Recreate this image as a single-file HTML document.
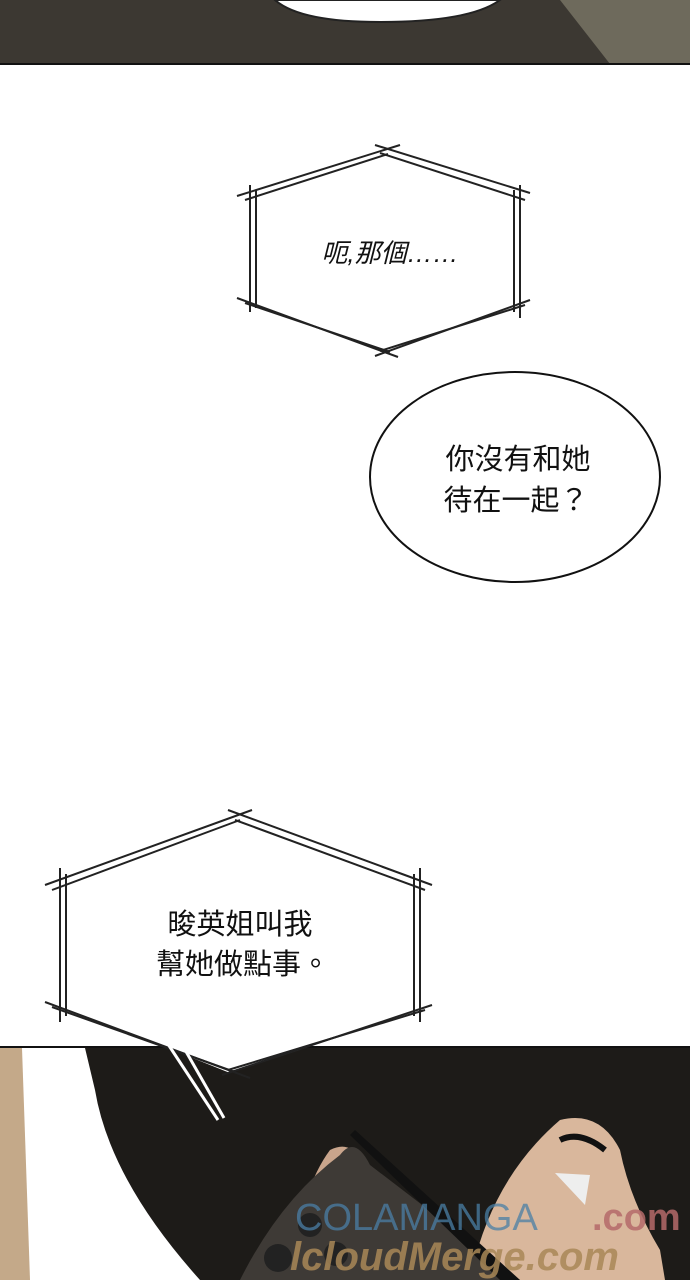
<!DOCTYPE html>
<html><head><meta charset="utf-8"><style>
html,body{margin:0;padding:0;background:#fff}
svg{display:block}
text{font-family:"Liberation Sans","Noto Sans CJK TC",sans-serif}
</style></head><body>
<svg width="690" height="1280" viewBox="0 0 690 1280" xmlns="http://www.w3.org/2000/svg">
<rect width="690" height="1280" fill="#fff"/>
<!-- top panel -->
<rect x="0" y="0" width="690" height="64" fill="#3c3832"/>
<path d="M560 0 L690 0 L690 64 L610 64 Z" fill="#6e6a5c"/>
<path d="M275 0 Q300 22 380 22 Q470 22 500 0 Z" fill="#fff" stroke="#222" stroke-width="2"/>
<line x1="0" y1="64" x2="690" y2="64" stroke="#111" stroke-width="2"/>

<!-- hexagon 1 -->
<g fill="none" stroke="#222" stroke-width="2">
<path d="M249 193 L384 150 L520 196 L520 304 L384 352 L249 302 Z" fill="#fff" stroke="none"/>
<line x1="237" y1="196" x2="400" y2="145"/>
<line x1="375" y1="145" x2="530" y2="193"/>
<line x1="250" y1="185" x2="250" y2="312"/>
<line x1="520" y1="185" x2="520" y2="318"/>
<line x1="237" y1="298" x2="398" y2="357"/>
<line x1="375" y1="356" x2="530" y2="300"/>
<line x1="245" y1="200" x2="388" y2="154"/>
<line x1="380" y1="153" x2="525" y2="200"/>
<line x1="256" y1="190" x2="256" y2="308"/>
<line x1="514" y1="190" x2="514" y2="312"/>
<line x1="245" y1="303" x2="390" y2="352"/>
<line x1="380" y1="351" x2="525" y2="305"/>
</g>
<text x="390" y="262" font-size="26" text-anchor="middle" font-style="italic" fill="#111">呃,那個……</text>

<!-- round bubble -->
<ellipse cx="515" cy="477" rx="145" ry="105" fill="#fff" stroke="#111" stroke-width="2"/>
<text x="518" y="469" font-size="29" text-anchor="middle" fill="#111">你沒有和她</text>
<text x="516" y="510" font-size="29" text-anchor="middle" fill="#111">待在一起？</text>

<!-- bottom panel -->
<rect x="0" y="1047" width="690" height="233" fill="#fff"/>
<path d="M0 1048 L22 1048 L30 1280 L0 1280 Z" fill="#c4a989"/>
<path d="M85 1048 L690 1048 L690 1280 L200 1280 Q110 1180 95 1090 Z" fill="#1d1b18"/>
<path d="M560 1120 Q600 1110 620 1150 Q630 1200 660 1250 L665 1280 L470 1280 Q490 1180 560 1120 Z" fill="#d9b79c"/>
<path d="M330 1150 Q350 1140 360 1160 L390 1280 L290 1280 Q300 1190 330 1150 Z" fill="#c9a58c"/>
<path d="M340 1155 Q355 1135 370 1165 L520 1280 L240 1280 Q280 1200 340 1155 Z" fill="#3e3a36"/>
<path d="M355 1130 L520 1280 L500 1280 L350 1135 Z" fill="#111"/>
<circle cx="310" cy="1225" r="12" fill="#222"/>
<circle cx="278" cy="1258" r="14" fill="#222"/>
<circle cx="336" cy="1254" r="12" fill="#222"/>
<path d="M555 1173 L590 1175 L585 1205 Z" fill="#eee"/>
<path d="M560 1140 Q580 1130 605 1150" stroke="#111" stroke-width="6" fill="none"/>
<line x1="0" y1="1047" x2="690" y2="1047" stroke="#111" stroke-width="2"/>
<text x="295" y="1230" font-size="38" fill="#4a7fa6" opacity="0.75" font-family="Liberation Serif,serif">COLAMANGA</text>
<text x="592" y="1230" font-size="38" fill="#b56a6a" opacity="0.85" font-weight="bold">.com</text>
<text x="290" y="1270" font-size="40" fill="#a98857" opacity="0.85" font-weight="bold" font-style="italic">lcloudMerge.com</text>

<!-- hexagon 2 -->
<g fill="none" stroke="#222" stroke-width="2">
<path d="M60 885 L240 815 L420 885 L420 1010 L230 1073 L60 1005 Z" fill="#fff" stroke="none"/>
<line x1="45" y1="885" x2="252" y2="810"/>
<line x1="228" y1="810" x2="432" y2="885"/>
<line x1="60" y1="868" x2="60" y2="1022"/>
<line x1="420" y1="868" x2="420" y2="1022"/>
<line x1="45" y1="1002" x2="250" y2="1078"/>
<line x1="222" y1="1075" x2="432" y2="1005"/>
<line x1="52" y1="890" x2="240" y2="820"/>
<line x1="235" y1="820" x2="425" y2="890"/>
<line x1="66" y1="874" x2="66" y2="1016"/>
<line x1="414" y1="874" x2="414" y2="1016"/>
<line x1="52" y1="1007" x2="235" y2="1072"/>
<line x1="228" y1="1070" x2="425" y2="1010"/>
</g>
<line x1="162" y1="1035" x2="218" y2="1120" stroke="#fff" stroke-width="3"/>
<line x1="176" y1="1034" x2="224" y2="1118" stroke="#fff" stroke-width="3"/>
<text x="240" y="934" font-size="29" text-anchor="middle" fill="#111">晙英姐叫我</text>
<text x="243" y="974" font-size="29" text-anchor="middle" fill="#111">幫她做點事。</text>
</svg>
</body></html>
